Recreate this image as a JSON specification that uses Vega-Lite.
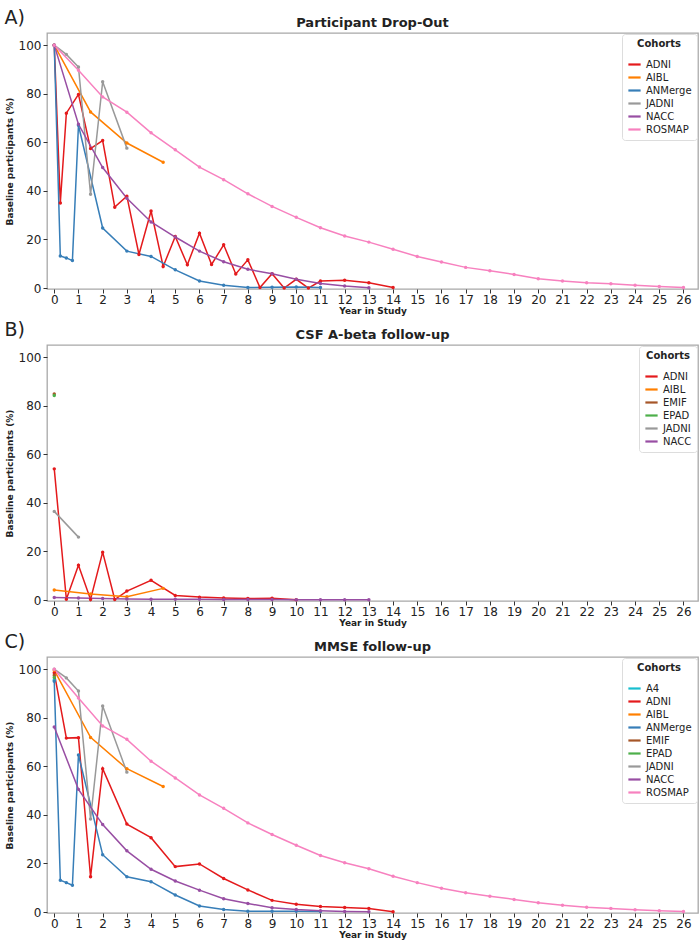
{
  "$schema": "https://vega.github.io/schema/vega-lite/v6.json",
  "padding": {"left": 4, "top": 9, "right": 3, "bottom": 0},
  "spacing": 5,
  "data": {"values": [
    {"p":"A","c":"ADNI","x":0,"y":100},{"p":"A","c":"ADNI","x":0.25,"y":35},{"p":"A","c":"ADNI","x":0.5,"y":72},{"p":"A","c":"ADNI","x":1,"y":79.7},{"p":"A","c":"ADNI","x":1.5,"y":57.4},{"p":"A","c":"ADNI","x":2,"y":60.7},{"p":"A","c":"ADNI","x":2.5,"y":33.3},{"p":"A","c":"ADNI","x":3,"y":37.8},{"p":"A","c":"ADNI","x":3.5,"y":13.8},{"p":"A","c":"ADNI","x":4,"y":31.7},{"p":"A","c":"ADNI","x":4.5,"y":8.9},{"p":"A","c":"ADNI","x":5,"y":21.2},{"p":"A","c":"ADNI","x":5.5,"y":9.6},{"p":"A","c":"ADNI","x":6,"y":22.6},{"p":"A","c":"ADNI","x":6.5,"y":9.7},{"p":"A","c":"ADNI","x":7,"y":17.8},{"p":"A","c":"ADNI","x":7.5,"y":5.8},{"p":"A","c":"ADNI","x":8,"y":11.6},{"p":"A","c":"ADNI","x":8.5,"y":0.2},{"p":"A","c":"ADNI","x":9,"y":5.9},{"p":"A","c":"ADNI","x":9.5,"y":0},{"p":"A","c":"ADNI","x":10,"y":3.6},{"p":"A","c":"ADNI","x":10.5,"y":0},{"p":"A","c":"ADNI","x":11,"y":2.9},{"p":"A","c":"ADNI","x":12,"y":3.2},{"p":"A","c":"ADNI","x":13,"y":2.2},{"p":"A","c":"ADNI","x":14,"y":0.2},
    {"p":"A","c":"AIBL","x":0,"y":100},{"p":"A","c":"AIBL","x":1.5,"y":72.5},{"p":"A","c":"AIBL","x":3,"y":59.7},{"p":"A","c":"AIBL","x":4.5,"y":51.8},
    {"p":"A","c":"ANMerge","x":0,"y":100},{"p":"A","c":"ANMerge","x":0.25,"y":13.2},{"p":"A","c":"ANMerge","x":0.5,"y":12.4},{"p":"A","c":"ANMerge","x":0.75,"y":11.3},{"p":"A","c":"ANMerge","x":1,"y":67},{"p":"A","c":"ANMerge","x":2,"y":24.7},{"p":"A","c":"ANMerge","x":3,"y":15.2},{"p":"A","c":"ANMerge","x":4,"y":13},{"p":"A","c":"ANMerge","x":5,"y":7.5},{"p":"A","c":"ANMerge","x":6,"y":2.9},{"p":"A","c":"ANMerge","x":7,"y":1.1},{"p":"A","c":"ANMerge","x":8,"y":0.2},{"p":"A","c":"ANMerge","x":9,"y":0.3},{"p":"A","c":"ANMerge","x":10,"y":0.4},{"p":"A","c":"ANMerge","x":11,"y":0.2},
    {"p":"A","c":"JADNI","x":0,"y":100},{"p":"A","c":"JADNI","x":0.5,"y":96.2},{"p":"A","c":"JADNI","x":1,"y":91},{"p":"A","c":"JADNI","x":1.5,"y":38.6},{"p":"A","c":"JADNI","x":2,"y":84.9},{"p":"A","c":"JADNI","x":3,"y":57.6},
    {"p":"A","c":"NACC","x":0,"y":100},{"p":"A","c":"NACC","x":1,"y":67.4},{"p":"A","c":"NACC","x":2,"y":49.6},{"p":"A","c":"NACC","x":3,"y":37},{"p":"A","c":"NACC","x":4,"y":27.2},{"p":"A","c":"NACC","x":5,"y":21},{"p":"A","c":"NACC","x":6,"y":15.2},{"p":"A","c":"NACC","x":7,"y":10.8},{"p":"A","c":"NACC","x":8,"y":7.7},{"p":"A","c":"NACC","x":9,"y":5.9},{"p":"A","c":"NACC","x":10,"y":3.6},{"p":"A","c":"NACC","x":11,"y":1.9},{"p":"A","c":"NACC","x":12,"y":0.8},{"p":"A","c":"NACC","x":13,"y":0.1},
    {"p":"A","c":"ROSMAP","x":0,"y":100},{"p":"A","c":"ROSMAP","x":1,"y":89.7},{"p":"A","c":"ROSMAP","x":2,"y":78.7},{"p":"A","c":"ROSMAP","x":3,"y":72.4},{"p":"A","c":"ROSMAP","x":4,"y":63.9},{"p":"A","c":"ROSMAP","x":5,"y":56.9},{"p":"A","c":"ROSMAP","x":6,"y":49.8},{"p":"A","c":"ROSMAP","x":7,"y":44.6},{"p":"A","c":"ROSMAP","x":8,"y":38.8},{"p":"A","c":"ROSMAP","x":9,"y":33.6},{"p":"A","c":"ROSMAP","x":10,"y":29.1},{"p":"A","c":"ROSMAP","x":11,"y":24.8},{"p":"A","c":"ROSMAP","x":12,"y":21.4},{"p":"A","c":"ROSMAP","x":13,"y":18.9},{"p":"A","c":"ROSMAP","x":14,"y":16},{"p":"A","c":"ROSMAP","x":15,"y":13},{"p":"A","c":"ROSMAP","x":16,"y":10.7},{"p":"A","c":"ROSMAP","x":17,"y":8.5},{"p":"A","c":"ROSMAP","x":18,"y":7.1},{"p":"A","c":"ROSMAP","x":19,"y":5.6},{"p":"A","c":"ROSMAP","x":20,"y":3.8},{"p":"A","c":"ROSMAP","x":21,"y":2.9},{"p":"A","c":"ROSMAP","x":22,"y":2.2},{"p":"A","c":"ROSMAP","x":23,"y":1.8},{"p":"A","c":"ROSMAP","x":24,"y":1.1},{"p":"A","c":"ROSMAP","x":25,"y":0.6},{"p":"A","c":"ROSMAP","x":26,"y":0.2},

    {"p":"B","c":"ADNI","x":0,"y":54},{"p":"B","c":"ADNI","x":0.5,"y":0.3},{"p":"B","c":"ADNI","x":1,"y":14.3},{"p":"B","c":"ADNI","x":1.5,"y":0.2},{"p":"B","c":"ADNI","x":2,"y":19.7},{"p":"B","c":"ADNI","x":2.5,"y":0.2},{"p":"B","c":"ADNI","x":3,"y":3.7},{"p":"B","c":"ADNI","x":4,"y":8.1},{"p":"B","c":"ADNI","x":5,"y":1.9},{"p":"B","c":"ADNI","x":6,"y":1.2},{"p":"B","c":"ADNI","x":7,"y":0.8},{"p":"B","c":"ADNI","x":8,"y":0.6},{"p":"B","c":"ADNI","x":9,"y":0.7},{"p":"B","c":"ADNI","x":10,"y":0.1},
    {"p":"B","c":"AIBL","x":0,"y":4.1},{"p":"B","c":"AIBL","x":1.5,"y":2.5},{"p":"B","c":"AIBL","x":3,"y":1.4},{"p":"B","c":"AIBL","x":4.5,"y":4.8},
    {"p":"B","c":"EMIF","x":0,"y":84.8},
    {"p":"B","c":"EPAD","x":0,"y":84.2},
    {"p":"B","c":"JADNI","x":0,"y":36.5},{"p":"B","c":"JADNI","x":1,"y":25.9},
    {"p":"B","c":"NACC","x":0,"y":1},{"p":"B","c":"NACC","x":1,"y":0.8},{"p":"B","c":"NACC","x":2,"y":0.6},{"p":"B","c":"NACC","x":3,"y":0.4},{"p":"B","c":"NACC","x":4,"y":0.3},{"p":"B","c":"NACC","x":5,"y":0.3},{"p":"B","c":"NACC","x":6,"y":0.3},{"p":"B","c":"NACC","x":7,"y":0.2},{"p":"B","c":"NACC","x":8,"y":0.2},{"p":"B","c":"NACC","x":9,"y":0.2},{"p":"B","c":"NACC","x":10,"y":0.1},{"p":"B","c":"NACC","x":11,"y":0.1},{"p":"B","c":"NACC","x":12,"y":0.1},{"p":"B","c":"NACC","x":13,"y":0.1},

    {"p":"C","c":"A4","x":0,"y":95.5},
    {"p":"C","c":"ADNI","x":0,"y":98.5},{"p":"C","c":"ADNI","x":0.5,"y":71.6},{"p":"C","c":"ADNI","x":1,"y":71.8},{"p":"C","c":"ADNI","x":1.5,"y":14.5},{"p":"C","c":"ADNI","x":2,"y":59},{"p":"C","c":"ADNI","x":3,"y":36.2},{"p":"C","c":"ADNI","x":4,"y":30.6},{"p":"C","c":"ADNI","x":5,"y":18.7},{"p":"C","c":"ADNI","x":6,"y":19.8},{"p":"C","c":"ADNI","x":7,"y":13.8},{"p":"C","c":"ADNI","x":8,"y":9.1},{"p":"C","c":"ADNI","x":9,"y":4.8},{"p":"C","c":"ADNI","x":10,"y":3.2},{"p":"C","c":"ADNI","x":11,"y":2.3},{"p":"C","c":"ADNI","x":12,"y":1.9},{"p":"C","c":"ADNI","x":13,"y":1.5},{"p":"C","c":"ADNI","x":14,"y":0.1},
    {"p":"C","c":"AIBL","x":0,"y":99.5},{"p":"C","c":"AIBL","x":1.5,"y":71.9},{"p":"C","c":"AIBL","x":3,"y":59},{"p":"C","c":"AIBL","x":4.5,"y":51.7},
    {"p":"C","c":"ANMerge","x":0,"y":95},{"p":"C","c":"ANMerge","x":0.25,"y":13.1},{"p":"C","c":"ANMerge","x":0.5,"y":12.1},{"p":"C","c":"ANMerge","x":0.75,"y":11},{"p":"C","c":"ANMerge","x":1,"y":64.7},{"p":"C","c":"ANMerge","x":2,"y":23.6},{"p":"C","c":"ANMerge","x":3,"y":14.5},{"p":"C","c":"ANMerge","x":4,"y":12.5},{"p":"C","c":"ANMerge","x":5,"y":7},{"p":"C","c":"ANMerge","x":6,"y":2.5},{"p":"C","c":"ANMerge","x":7,"y":1},{"p":"C","c":"ANMerge","x":8,"y":0.3},{"p":"C","c":"ANMerge","x":9,"y":0.3},{"p":"C","c":"ANMerge","x":10,"y":0.3},{"p":"C","c":"ANMerge","x":11,"y":0.2},
    {"p":"C","c":"EMIF","x":0,"y":97.5},
    {"p":"C","c":"EPAD","x":0,"y":96.6},
    {"p":"C","c":"JADNI","x":0,"y":100},{"p":"C","c":"JADNI","x":0.5,"y":96.4},{"p":"C","c":"JADNI","x":1,"y":91},{"p":"C","c":"JADNI","x":1.5,"y":38.3},{"p":"C","c":"JADNI","x":2,"y":84.8},{"p":"C","c":"JADNI","x":3,"y":57.6},
    {"p":"C","c":"NACC","x":0,"y":76.2},{"p":"C","c":"NACC","x":1,"y":50.5},{"p":"C","c":"NACC","x":2,"y":36},{"p":"C","c":"NACC","x":3,"y":25.2},{"p":"C","c":"NACC","x":4,"y":17.6},{"p":"C","c":"NACC","x":5,"y":12.8},{"p":"C","c":"NACC","x":6,"y":9},{"p":"C","c":"NACC","x":7,"y":5.5},{"p":"C","c":"NACC","x":8,"y":3.5},{"p":"C","c":"NACC","x":9,"y":1.8},{"p":"C","c":"NACC","x":10,"y":1},{"p":"C","c":"NACC","x":11,"y":0.5},{"p":"C","c":"NACC","x":12,"y":0.2},{"p":"C","c":"NACC","x":13,"y":0.1},
    {"p":"C","c":"ROSMAP","x":0,"y":100},{"p":"C","c":"ROSMAP","x":1,"y":88.1},{"p":"C","c":"ROSMAP","x":2,"y":76.6},{"p":"C","c":"ROSMAP","x":3,"y":71.1},{"p":"C","c":"ROSMAP","x":4,"y":62.1},{"p":"C","c":"ROSMAP","x":5,"y":55.2},{"p":"C","c":"ROSMAP","x":6,"y":48.2},{"p":"C","c":"ROSMAP","x":7,"y":42.7},{"p":"C","c":"ROSMAP","x":8,"y":36.7},{"p":"C","c":"ROSMAP","x":9,"y":31.9},{"p":"C","c":"ROSMAP","x":10,"y":27.5},{"p":"C","c":"ROSMAP","x":11,"y":23.3},{"p":"C","c":"ROSMAP","x":12,"y":20.3},{"p":"C","c":"ROSMAP","x":13,"y":17.8},{"p":"C","c":"ROSMAP","x":14,"y":14.7},{"p":"C","c":"ROSMAP","x":15,"y":12.1},{"p":"C","c":"ROSMAP","x":16,"y":9.8},{"p":"C","c":"ROSMAP","x":17,"y":7.9},{"p":"C","c":"ROSMAP","x":18,"y":6.5},{"p":"C","c":"ROSMAP","x":19,"y":5.2},{"p":"C","c":"ROSMAP","x":20,"y":3.8},{"p":"C","c":"ROSMAP","x":21,"y":2.8},{"p":"C","c":"ROSMAP","x":22,"y":2},{"p":"C","c":"ROSMAP","x":23,"y":1.5},{"p":"C","c":"ROSMAP","x":24,"y":0.9},{"p":"C","c":"ROSMAP","x":25,"y":0.5},{"p":"C","c":"ROSMAP","x":26,"y":0.2}
  ]},
  "vconcat": [
    {
      "title": {"text": "A)", "anchor": "start", "fontSize": 19, "fontWeight": "normal", "offset": -12},
      "resolve": {"scale": {"color": "independent"}, "legend": {"color": "independent"}},
      "vconcat": [{
        "width": 651, "height": 256,
        "title": "Participant Drop-Out",
        "transform": [{"filter": "datum.p === 'A'"}],
        "mark": {"type": "line", "strokeWidth": 1.5, "point": {"filled": true, "size": 12}},
        "encoding": {
          "x": {"field": "x", "type": "quantitative", "scale": {"domain": [-0.3, 26.6], "nice": false, "zero": false}, "axis": {"values": [0,1,2,3,4,5,6,7,8,9,10,11,12,13,14,15,16,17,18,19,20,21,22,23,24,25,26], "title": "Year in Study"}},
          "y": {"field": "y", "type": "quantitative", "scale": {"domain": [-0.4, 105], "nice": false}, "axis": {"values": [0,20,40,60,80,100], "title": "Baseline participants (%)"}},
          "color": {"field": "c", "type": "nominal", "scale": {"domain": ["ADNI","AIBL","ANMerge","JADNI","NACC","ROSMAP"], "range": ["#e41a1c","#ff7f00","#377eb8","#999999","#984ea3","#f781bf"]}, "legend": {"title": "Cohorts", "orient": "top-right"}}
        }
      }]
    },
    {
      "title": {"text": "B)", "anchor": "start", "fontSize": 19, "fontWeight": "normal", "offset": -12},
      "resolve": {"scale": {"color": "independent"}, "legend": {"color": "independent"}},
      "vconcat": [{
        "width": 651, "height": 256,
        "title": "CSF A-beta follow-up",
        "transform": [{"filter": "datum.p === 'B'"}],
        "mark": {"type": "line", "strokeWidth": 1.5, "point": {"filled": true, "size": 12}},
        "encoding": {
          "x": {"field": "x", "type": "quantitative", "scale": {"domain": [-0.3, 26.6], "nice": false, "zero": false}, "axis": {"values": [0,1,2,3,4,5,6,7,8,9,10,11,12,13,14,15,16,17,18,19,20,21,22,23,24,25,26], "title": "Year in Study"}},
          "y": {"field": "y", "type": "quantitative", "scale": {"domain": [-0.4, 105], "nice": false}, "axis": {"values": [0,20,40,60,80,100], "title": "Baseline participants (%)"}},
          "color": {"field": "c", "type": "nominal", "scale": {"domain": ["ADNI","AIBL","EMIF","EPAD","JADNI","NACC"], "range": ["#e41a1c","#ff7f00","#a65628","#4daf4a","#999999","#984ea3"]}, "legend": {"title": "Cohorts", "orient": "top-right"}}
        }
      }]
    },
    {
      "title": {"text": "C)", "anchor": "start", "fontSize": 19, "fontWeight": "normal", "offset": -12},
      "resolve": {"scale": {"color": "independent"}, "legend": {"color": "independent"}},
      "vconcat": [{
        "width": 651, "height": 256,
        "title": "MMSE follow-up",
        "transform": [{"filter": "datum.p === 'C'"}],
        "mark": {"type": "line", "strokeWidth": 1.5, "point": {"filled": true, "size": 12}},
        "encoding": {
          "x": {"field": "x", "type": "quantitative", "scale": {"domain": [-0.3, 26.6], "nice": false, "zero": false}, "axis": {"values": [0,1,2,3,4,5,6,7,8,9,10,11,12,13,14,15,16,17,18,19,20,21,22,23,24,25,26], "title": "Year in Study"}},
          "y": {"field": "y", "type": "quantitative", "scale": {"domain": [-0.4, 105], "nice": false}, "axis": {"values": [0,20,40,60,80,100], "title": "Baseline participants (%)"}},
          "color": {"field": "c", "type": "nominal", "scale": {"domain": ["A4","ADNI","AIBL","ANMerge","EMIF","EPAD","JADNI","NACC","ROSMAP"], "range": ["#17becf","#e41a1c","#ff7f00","#377eb8","#a65628","#4daf4a","#999999","#984ea3","#f781bf"]}, "legend": {"title": "Cohorts", "orient": "top-right"}}
        }
      }]
    }
  ],
  "resolve": {"scale": {"color": "independent"}, "legend": {"color": "independent"}},
  "config": {
    "font": "DejaVu Sans",
    "view": {"stroke": "#a8a8a8", "strokeWidth": 1.3},
    "axis": {"domain": false, "grid": false, "tickColor": "#333", "tickSize": 4, "labelFontSize": 12, "labelColor": "#222", "labelPadding": 2, "titleFontSize": 9, "titleFontWeight": "bold", "titleColor": "#222", "titlePadding": 4},
    "axisX": {"labelPadding": 1, "titlePadding": 1},
    "title": {"fontSize": 13, "fontWeight": "bold", "color": "#222", "offset": 3},
    "legend": {"titleFontSize": 10, "titleFontWeight": "bold", "titleColor": "#222", "titleAnchor": "middle", "titlePadding": 8, "labelFontSize": 10, "labelColor": "#222", "symbolType": "stroke", "symbolStrokeWidth": 2.2, "symbolSize": 150, "fillColor": "white", "strokeColor": "#ddd", "padding": 5, "cornerRadius": 3, "rowPadding": 0, "offset": 1}
  }
}
